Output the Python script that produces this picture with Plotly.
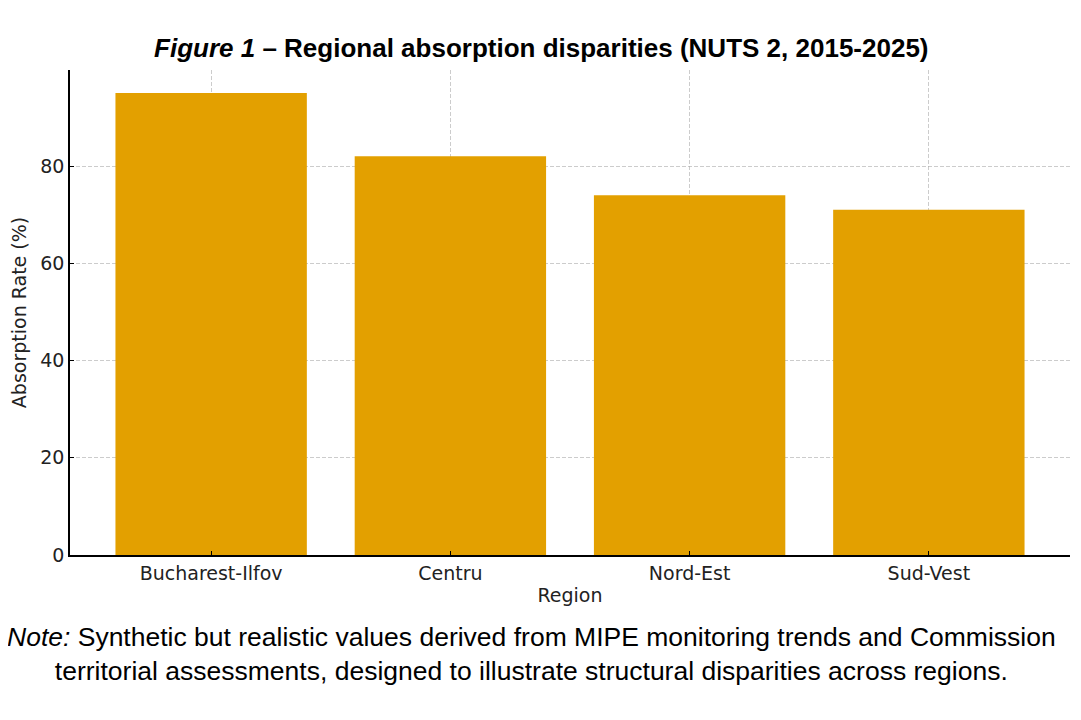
import plotly.graph_objects as go

regions = ["Bucharest-Ilfov", "Centru", "Nord-Est", "Sud-Vest"]
absorption = [95, 82, 74, 71]
y_ticks = [0, 20, 40, 60, 80]

x_pos = list(range(len(regions)))
x_range = [-0.59, 3.59]
y_range = [0, 99.75]

fig = go.Figure()
fig.add_trace(go.Bar(
    x=x_pos,
    y=absorption,
    width=0.8,
    marker=dict(color="#E3A000", line=dict(width=0)),
))
# empty trace on overlay axes so the dashed grid is drawn on top of the bars
fig.add_trace(go.Scatter(x=[None], y=[None], xaxis="x2", yaxis="y2",
                         mode="markers", hoverinfo="skip"))

axis_font = dict(family="DejaVu Sans", size=19, color="#222")
grid = dict(showgrid=True, gridcolor="rgba(170,170,170,0.6)", griddash="4px,2px", gridwidth=1)

# page body adds 8px around the figure, so the figure is 8px smaller each way
fig.update_layout(
    width=1073, height=712,
    margin=dict(l=62, r=11, t=62, b=165, autoexpand=False),
    plot_bgcolor="white", paper_bgcolor="white",
    showlegend=False,
    title=dict(
        text="<b><i>Figure 1</i> – Regional absorption disparities (NUTS 2, 2015-2025)</b>",
        x=0.497, xanchor="center", y=0.944, yanchor="middle",
        font=dict(family="Liberation Sans", size=26, color="black"),
    ),
    xaxis=dict(
        tickmode="array", tickvals=x_pos, ticktext=regions,
        range=x_range,
        showline=True, linecolor="black", linewidth=1.5,
        ticks="inside", ticklen=4, tickcolor="black",
        showgrid=False,
        tickfont=axis_font,
        title=dict(text="Region", font=axis_font, standoff=6),
    ),
    yaxis=dict(
        tickmode="array", tickvals=y_ticks,
        range=y_range,
        showline=True, linecolor="black", linewidth=1.5,
        ticks="inside", ticklen=4, tickcolor="black",
        showgrid=False, zeroline=False,
        tickfont=axis_font,
        title=dict(text="Absorption Rate (%)", font=axis_font, standoff=10),
    ),
    xaxis2=dict(overlaying="x", range=x_range, tickmode="array", tickvals=x_pos,
                showticklabels=False, zeroline=False, **grid),
    yaxis2=dict(overlaying="y", range=y_range, tickmode="array", tickvals=y_ticks[1:],
                showticklabels=False, zeroline=False, **grid),
    annotations=[dict(
        text="<i>Note:</i> Synthetic but realistic values derived from MIPE monitoring trends and Commission<br>"
             "territorial assessments, designed to illustrate structural disparities across regions.",
        xref="paper", yref="paper", x=0.461, y=-0.134, xanchor="center", yanchor="top",
        showarrow=False, align="center",
        font=dict(family="Liberation Sans", size=26.5, color="black"),
    )],
)

fig.write_html("out.html")
